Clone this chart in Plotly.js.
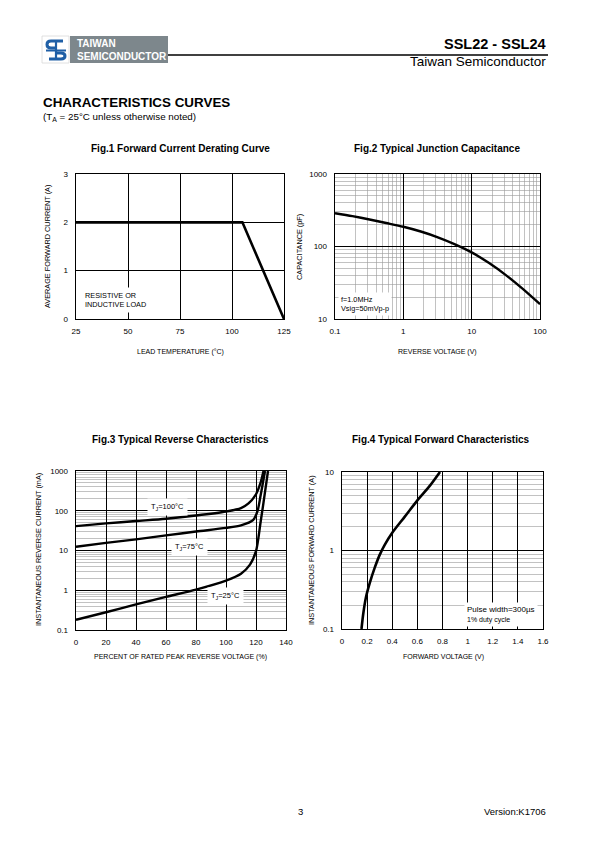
<!DOCTYPE html>
<html><head><meta charset="utf-8">
<script src="https://cdn.plot.ly/plotly-3.0.1.min.js"></script>
<style>html,body{margin:0;padding:0;background:#fff}#chart{width:595px;height:842px}</style>
</head><body><div id="chart"></div><script>
// ---------- data ----------
const fig1Temp = [25, 105, 125];
const fig1Current = [2, 2, 0];
const fig1XTicks = [25, 50, 75, 100, 125];
const fig1YTicks = [0, 1, 2, 3];

const fig2Voltage = [0.1, 0.18, 0.32, 0.56, 1, 1.8, 3.2, 5.6, 10, 18, 32, 56, 100];
const fig2Cap = [288, 262, 236, 211, 187, 161, 134, 108, 83, 59, 40, 26, 16];
const fig2XTicks = [0.1, 1, 10, 100];
const fig2XLabels = ['0.1', '1', '10', '100'];
const fig2YTicks = [10, 100, 1000];
const fig2YLabels = ['10', '100', '1000'];

const fig3Pct100 = [0, 20, 40, 60, 80, 100, 110, 115, 120, 123, 125];
const fig3Cur100 = [41, 48, 55, 63, 76, 96, 117, 153, 260, 500, 1000];
const fig3Pct75 = [0, 20, 40, 60, 80, 100, 110, 118, 121, 123, 126];
const fig3Cur75 = [12.4, 15.5, 19, 24, 30, 37, 43, 58, 98, 234, 1000];
const fig3Pct25 = [0, 20, 40, 60, 80, 100, 110, 116, 120, 123, 125, 128];
const fig3Cur25 = [0.18, 0.28, 0.44, 0.68, 1.04, 1.75, 2.6, 4.4, 9.6, 50, 160, 1000];
const fig3XTicks = [0, 20, 40, 60, 80, 100, 120, 140];
const fig3YTicks = [0.1, 1, 10, 100, 1000];
const fig3YLabels = ['0.1', '1', '10', '100', '1000'];

const fig4Volt = [0.155, 0.17, 0.19, 0.22, 0.26, 0.3, 0.34, 0.4, 0.5, 0.6, 0.7, 0.78];
const fig4Cur = [0.1, 0.16, 0.25, 0.38, 0.6, 0.88, 1.18, 1.68, 2.7, 4.35, 6.7, 10];
const fig4XTicks = [0, 0.2, 0.4, 0.6, 0.8, 1, 1.2, 1.4, 1.6];
const fig4XLabels = ['0', '0.2', '0.4', '0.6', '0.8', '1', '1.2', '1.4', '1.6'];
const fig4YTicks = [0.1, 1, 10];
const fig4YLabels = ['0.1', '1', '10'];

// ---------- helpers ----------
const W = 595, H = 842;
const FONT = 'Arial, "Liberation Sans", Helvetica, sans-serif';
const px = x => x / W;
const py = y => 1 - y / H;
function minorLog(lo, hi) {
  const v = [];
  for (let d = lo; d < hi; d++) for (let m = 2; m <= 9; m++) v.push(m * Math.pow(10, d));
  return v;
}
function axis(d0, d1, isY, extra) {
  const a = {
    domain: isY ? [py(d1), py(d0)] : [px(d0), px(d1)],
    showline: true, mirror: true, linecolor: '#000', linewidth: 1.4,
    ticks: '', showgrid: true, gridcolor: '#000', gridwidth: 1, zeroline: false,
    tickfont: {family: FONT, size: 8, color: '#000'}, fixedrange: true,
    ticklabelstandoff: isY ? 5 : 4, layer: 'below traces'
  };
  return Object.assign(a, extra);
}
const minorStyle = vals => ({tickmode: 'array', tickvals: vals, showgrid: true, gridcolor: '#9a9a9a', gridwidth: 0.6, ticks: ''});
const lineStyle = w => ({color: '#000', width: w});
const smooth = w => Object.assign(lineStyle(w), {shape: 'spline', smoothing: 0.8});

// ---------- traces ----------
const traces = [
  {x: fig1Temp, y: fig1Current, xaxis: 'x', yaxis: 'y', mode: 'lines', line: lineStyle(2.6), hoverinfo: 'skip'},
  {x: fig2Voltage, y: fig2Cap, xaxis: 'x2', yaxis: 'y2', mode: 'lines', line: smooth(2.4), hoverinfo: 'skip'},
  {x: fig3Pct100, y: fig3Cur100, xaxis: 'x3', yaxis: 'y3', mode: 'lines', line: smooth(2.4), hoverinfo: 'skip'},
  {x: fig3Pct75, y: fig3Cur75, xaxis: 'x3', yaxis: 'y3', mode: 'lines', line: smooth(2.4), hoverinfo: 'skip'},
  {x: fig3Pct25, y: fig3Cur25, xaxis: 'x3', yaxis: 'y3', mode: 'lines', line: smooth(2.4), hoverinfo: 'skip'},
  {x: fig4Volt, y: fig4Cur, xaxis: 'x4', yaxis: 'y4', mode: 'lines', line: smooth(2.6), hoverinfo: 'skip'}
];

// ---------- annotations ----------
function txt(x, y, text, size, opts) {
  return Object.assign({xref: 'paper', yref: 'paper', x: px(x), y: py(y), text, showarrow: false,
    xanchor: 'center', yanchor: 'middle', font: {family: FONT, size, color: '#000'}}, opts || {});
}
const B = s => '<b>' + s + '</b>';
const annotations = [
  // header
  txt(548, 44, B('SSL22 - SSL24'), 14.5, {xanchor: 'right'}),
  txt(548, 61, 'Taiwan Semiconductor', 13.5, {xanchor: 'right'}),
  txt(75, 44, B('TAIWAN'), 10, {xanchor: 'left', font: {family: FONT, size: 10, color: '#fff'}}),
  txt(75, 56, B('SEMICONDUCTOR'), 10, {xanchor: 'left', font: {family: FONT, size: 10, color: '#fff'}}),
  txt(41, 103, B('CHARACTERISTICS CURVES'), 13.4, {xanchor: 'left'}),
  txt(41, 117, '(T<sub>A</sub> = 25°C unless otherwise noted)', 9.8, {xanchor: 'left'}),
  // figure titles
  txt(180, 148, B('Fig.1 Forward Current Derating Curve'), 10),
  txt(437, 148, B('Fig.2 Typical Junction Capacitance'), 10),
  txt(181, 440, B('Fig.3 Typical Reverse Characteristics'), 10),
  txt(441, 440, B('Fig.4 Typical Forward Characteristics'), 10),
  // axis titles
  txt(180, 352, 'LEAD TEMPERATURE (°C)', 7),
  txt(48, 247, 'AVERAGE FORWARD CURRENT (A)', 7.3, {textangle: -90}),
  txt(437, 352, 'REVERSE VOLTAGE (V)', 7),
  txt(300, 247, 'CAPACITANCE (pF)', 7.3, {textangle: -90}),
  txt(181, 657, 'PERCENT OF RATED PEAK REVERSE VOLTAGE (%)', 7),
  txt(38, 550, 'INSTANTANEOUS REVERSE CURRENT (mA)', 7.3, {textangle: -90}),
  txt(443, 657, 'FORWARD VOLTAGE (V)', 7),
  txt(311, 550, 'INSTANTANEOUS FORWARD CURRENT (A)', 7.3, {textangle: -90}),
  // in-plot notes
  txt(81, 300, 'RESISTIVE OR<br>INDUCTIVE LOAD', 7.3, {xanchor: 'left', align: 'left', bgcolor: '#fff', borderpad: 3}),
  txt(338, 304, 'f=1.0MHz<br>Vsig=50mVp-p', 7.3, {xanchor: 'left', align: 'left', bgcolor: '#fff', borderpad: 2}),
  txt(464, 614, 'Pulse width=300µs<br><span style="font-size:7px">1% duty cycle</span>', 8, {xanchor: 'left', align: 'left', bgcolor: '#fff', borderpad: 2}),
  txt(167, 507, 'T<sub>J</sub>=100°C', 7.5, {bgcolor: '#fff', borderpad: 3}),
  txt(189, 547, 'T<sub>J</sub>=75°C', 7.5, {bgcolor: '#fff', borderpad: 3}),
  txt(225, 596, 'T<sub>J</sub>=25°C', 7.5, {bgcolor: '#fff', borderpad: 3}),
  // footer
  txt(300, 811, '3', 9.5),
  txt(548, 811, 'Version:K1706', 9.5, {xanchor: 'right'})
];

// ---------- shapes (header decoration) ----------
function rect(x0, y0, x1, y1, fill, lc) {
  return {type: 'rect', xref: 'paper', yref: 'paper', x0: px(x0), x1: px(x1), y0: py(y1), y1: py(y0),
    fillcolor: fill, line: {width: lc ? 0.8 : 0, color: lc || fill}};
}
function pathPx(cmds, color, w) {
  const p = cmds.map(c => typeof c === 'string' ? c : (c[0] / W).toFixed(5) + ',' + (1 - c[1] / H).toFixed(5)).join(' ');
  return {type: 'path', xref: 'paper', yref: 'paper', path: p, line: {color, width: w}};
}
const BLUE = '#1f5fa6';
const shapes = [
  rect(42, 36, 69, 63, '#ffffff', '#d8d8d8'),
  rect(70, 36, 168, 63, '#7d878c'),
  {type: 'line', xref: 'paper', yref: 'paper', x0: px(168), x1: px(548), y0: py(55), y1: py(55), line: {color: '#000', width: 1.6}},
  pathPx(['M', [63, 41], 'L', [51, 41], 'Q', [47, 41], [47, 44.5], 'Q', [47, 48], [51, 48], 'L', [57, 48]], BLUE, 3),
  pathPx(['M', [46, 50.5], 'L', [66, 50.5]], BLUE, 2),
  pathPx(['M', [55, 53], 'L', [61, 53], 'Q', [65, 53], [65, 56], 'Q', [65, 59], [61, 59], 'L', [49, 59]], BLUE, 3),
  pathPx(['M', [56, 40], 'L', [56, 60]], BLUE, 2.2)
];

// ---------- layout ----------
const layout = {
  width: W, height: H, margin: {l: 0, r: 0, t: 0, b: 0},
  paper_bgcolor: '#fff', plot_bgcolor: '#fff', showlegend: false,
  font: {family: FONT, color: '#000'},
  xaxis: axis(76, 284, false, {anchor: 'y', range: [25, 125], tickvals: fig1XTicks}),
  yaxis: axis(174, 319, true, {anchor: 'x', range: [0, 3], tickvals: fig1YTicks}),
  xaxis2: axis(335, 540, false, {anchor: 'y2', type: 'log', range: [-1, 2], tickvals: fig2XTicks, ticktext: fig2XLabels, minor: minorStyle(minorLog(-1, 2))}),
  yaxis2: axis(174, 319, true, {anchor: 'x2', type: 'log', range: [1, 3], tickvals: fig2YTicks, ticktext: fig2YLabels, minor: minorStyle(minorLog(1, 3))}),
  xaxis3: axis(76, 286, false, {anchor: 'y3', range: [0, 140], tickvals: fig3XTicks}),
  yaxis3: axis(471, 630, true, {anchor: 'x3', type: 'log', range: [-1, 3], tickvals: fig3YTicks, ticktext: fig3YLabels, minor: minorStyle(minorLog(-1, 3))}),
  xaxis4: axis(342, 543, false, {anchor: 'y4', range: [0, 1.6], tickvals: fig4XTicks, ticktext: fig4XLabels}),
  yaxis4: axis(472, 629, true, {anchor: 'x4', type: 'log', range: [-1, 1], tickvals: fig4YTicks, ticktext: fig4YLabels, minor: minorStyle(minorLog(-1, 1))}),
  annotations, shapes
};

Plotly.newPlot('chart', traces, layout, {staticPlot: true, displayModeBar: false});
</script></body></html>
